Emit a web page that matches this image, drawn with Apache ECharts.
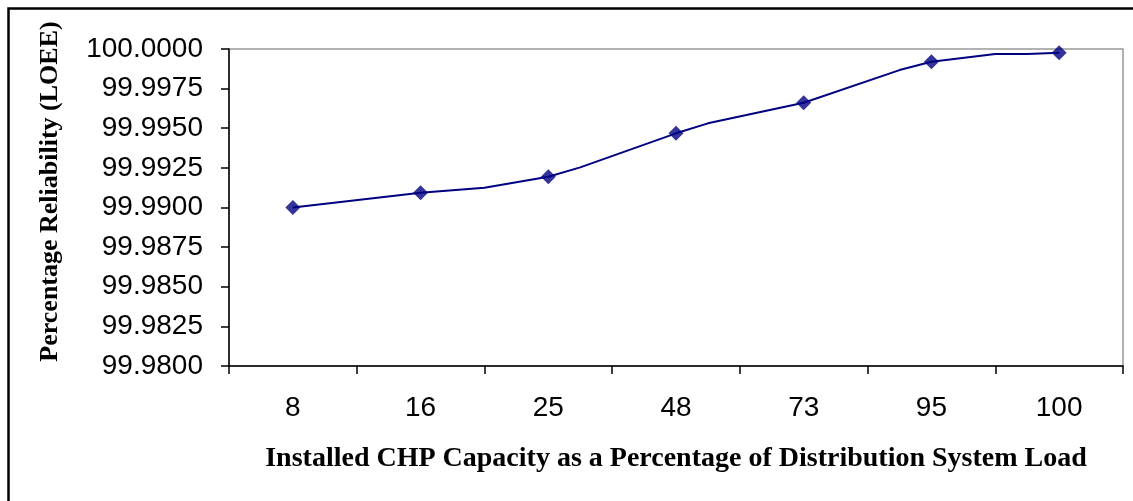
<!DOCTYPE html>
<html>
<head>
<meta charset="utf-8">
<script src="https://cdn.jsdelivr.net/npm/echarts@6/dist/echarts.min.js"></script>
<style>
    html, body { margin: 0; padding: 0; background: #fff; }
    #chart { width: 1133px; height: 501px; }
</style>
</head>
<body>
<div id="chart"></div>
<script>
// categories on the x axis
const categories = ['8', '16', '25', '48', '73', '95', '100'];
// reliability at each installed capacity (marker points)
const reliability = [99.9900, 99.99093, 99.99194, 99.99468, 99.99661, 99.9992, 99.99977];
// smoothed line as drawn in the source: position (in bands) and value
const linePos = [0.5, 1.5, 2, 2.5, 2.75, 3.5, 3.75, 4.5, 5.25, 5.5, 6, 6.25, 6.5];
const lineVals = [99.9900, 99.99093, 99.99124, 99.99194, 99.99253, 99.99468, 99.99531,
    99.99661, 99.99867, 99.9992, 99.99968, 99.99968, 99.99977];

const myChart = echarts.init(document.getElementById('chart'));

const tickFont = { fontFamily: 'Liberation Sans', fontSize: 28, color: '#000' };
const titleFont = { fontFamily: 'Liberation Serif', fontWeight: 'bold', color: '#000' };

let option = {
    backgroundColor: '#fff',
    animation: false,
    grid: {
        left: 229,
        right: 10,
        top: 49,
        bottom: 135,
        show: true,
        borderColor: '#999',
        borderWidth: 1.5
    },
    xAxis: [
        {
            type: 'category',
            data: categories,
            boundaryGap: true,
            name: 'Installed CHP Capacity as a Percentage of Distribution System Load',
            nameLocation: 'middle',
            nameGap: 79,
            nameTextStyle: { ...titleFont, fontSize: 28, verticalAlign: 'top' },
            axisLine: { lineStyle: { color: '#000', width: 1.5 } },
            axisTick: { show: true, length: 8, lineStyle: { color: '#000', width: 1.5 } },
            axisLabel: { ...tickFont, margin: 28 },
            splitLine: { show: false }
        },
        {
            // hidden linear axis carrying the drawn line between the bands
            type: 'value',
            min: 0,
            max: 7,
            show: false
        }
    ],
    yAxis: {
        type: 'value',
        min: 99.98,
        max: 100,
        interval: 0.0025,
        name: 'Percentage Reliability (LOEE)',
        nameLocation: 'middle',
        nameGap: 166,
        nameTextStyle: { ...titleFont, fontSize: 26, padding: [0, 0, 0, 32] },
        axisLine: { show: true, lineStyle: { color: '#000', width: 1.5 } },
        axisTick: { show: true, length: 8, lineStyle: { color: '#000', width: 1.5 } },
        axisLabel: {
            ...tickFont,
            margin: 26,
            formatter: (v) => v.toFixed(4)
        },
        splitLine: { show: false }
    },
    series: [
        {
            name: 'line',
            type: 'line',
            xAxisIndex: 1,
            data: linePos.map((p, i) => [p, lineVals[i]]),
            showSymbol: false,
            lineStyle: { color: '#000080', width: 2 },
            z: 2
        },
        {
            name: 'points',
            type: 'scatter',
            xAxisIndex: 0,
            data: reliability,
            symbol: 'diamond',
            symbolSize: 15,
            itemStyle: { color: '#000080' },
            z: 3
        }
    ],
    graphic: [
        {
            type: 'rect',
            left: 6,
            top: 6,
            shape: { width: 1140, height: 510 },
            style: { fill: null, stroke: '#000', lineWidth: 2.5 },
            silent: true
        }
    ]
};

myChart.setOption(option);
window.addEventListener('resize', () => {
    myChart.resize();
});
</script>
</body>
</html>
